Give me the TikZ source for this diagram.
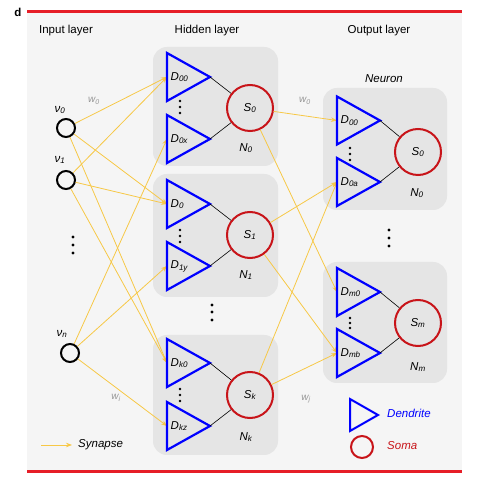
\documentclass[tikz,border=0pt]{standalone}
\usepackage{fontspec}
\setmainfont{Liberation Sans}
\usetikzlibrary{arrows.meta}
\definecolor{synC}{RGB}{247,200,70}
\definecolor{dblue}{RGB}{0,0,255}
\definecolor{sred}{RGB}{200,20,25}
\definecolor{barred}{RGB}{230,30,40}
\definecolor{panelC}{RGB}{245,245,245}
\definecolor{boxg}{RGB}{229,229,229}
\definecolor{wgray}{RGB}{150,150,150}
\tikzset{
  every node/.style={font=\fontsize{11.5}{13}\selectfont, inner sep=0pt},
  dend/.style={draw=dblue, line width=2.2pt, line join=miter},
  soma/.style={circle, draw=sred, line width=2pt, minimum size=46pt, fill=boxg},
  inp/.style={circle, draw=black, line width=2pt, minimum size=18pt},
  synapse/.style={draw=synC, line width=0.8pt, -{Stealth[length=6pt,width=4.5pt]}},
  link/.style={draw=black, line width=0.6pt},
  nbox/.style={fill=boxg, rounded corners=14pt},
  wlab/.style={text=wgray, font=\fontsize{10}{12}\selectfont\itshape},
  bigdot/.style={circle, fill=black, minimum size=3.2pt},
  smalldot/.style={circle, fill=black, minimum size=2.6pt},
}
\newcommand\dendr[4]{%
  \draw[dend] (#2,#3-24) -- (#2+43,#3) -- (#2,#3+24) -- cycle;
  \coordinate (#1) at (#2,#3);
  \coordinate (#1t) at (#2+43,#3);
  \node[anchor=west] (#1l) at (#2+3.5,#3) {\textit{D\textsubscript{#4}}};
}
\begin{document}
\begin{tikzpicture}[x=1pt,y=-1pt]
\useasboundingbox (0,0) rectangle (488,486);
% panel and red bars
\fill[panelC] (27,13) rectangle (462,470);
\draw[barred, line width=3pt] (27,12) -- (462,12);
\draw[barred, line width=3pt] (27,472) -- (462,472);
\node[font=\fontsize{11.5}{13}\selectfont\bfseries] (dlab) at (18,12) {d};
% titles
\node (t1) at (66,31) {Input layer};
\node (t2) at (207,31) {Hidden layer};
\node (t3) at (379,31) {Output layer};
\node[font=\fontsize{11.5}{13}\selectfont\itshape] (tn) at (384,79) {Neuron};
% neuron boxes
\fill[nbox] (153,47) rectangle (278,166);
\fill[nbox] (153,174) rectangle (278,297);
\fill[nbox] (153,335) rectangle (278,455);
\fill[nbox] (323,88) rectangle (447,210);
\fill[nbox] (323,262) rectangle (447,383);
% input neurons
\node[inp] (v0) at (66,128) {};
\node[inp] (v1) at (66,180) {};
\node[inp] (vn) at (70,353) {};
\node (v0l) at (60,110) {\textit{ν\textsubscript{0}}};
\node (v1l) at (60,160) {\textit{ν\textsubscript{1}}};
\node (vnl) at (62,334) {\textit{ν\textsubscript{n}}};
\node[bigdot] (id1) at (73,237) {};
\node[bigdot] (id2) at (73,245) {};
\node[bigdot] (id3) at (73,253) {};
% somas
\node[soma] (hs0) at (250,108) {\textit{S\textsubscript{0}}};
\node[soma] (hs1) at (250,235) {\textit{S\textsubscript{1}}};
\node[soma] (hsk) at (250,395) {\textit{S\textsubscript{k}}};
\node[soma] (os0) at (418,152) {\textit{S\textsubscript{0}}};
\node[soma] (osm) at (418,323) {\textit{S\textsubscript{m}}};
\node (hn0) at (246,148) {\textit{N\textsubscript{0}}};
\node (hn1) at (246,275) {\textit{N\textsubscript{1}}};
\node (hnk) at (246,437) {\textit{N\textsubscript{k}}};
\node (on0) at (417,193) {\textit{N\textsubscript{0}}};
\node (onm) at (418,367) {\textit{N\textsubscript{m}}};
% coordinates of dendrite inputs (defined before arrows)
\coordinate (h00) at (167,77);
\coordinate (h0x) at (167,139);
\coordinate (h10) at (167,204);
\coordinate (h1y) at (167,266);
\coordinate (hk0) at (167,363);
\coordinate (hkz) at (167,426);
\coordinate (o00) at (337,120.5);
\coordinate (o0a) at (337,182);
\coordinate (om0) at (337,292);
\coordinate (omb) at (337,353);
% synapses input -> hidden
\draw[synapse] (v0) -- (h00);
\draw[synapse] (v0) -- (h10);
\draw[synapse] (v0) -- (hk0);
\draw[synapse] (v1) -- (h00);
\draw[synapse] (v1) -- (h10);
\draw[synapse] (v1) -- (hk0);
\draw[synapse] (vn) -- (h0x);
\draw[synapse] (vn) -- (h1y);
\draw[synapse] (vn) -- (hkz);
% synapses hidden -> output
\draw[synapse] (hs0) -- (o00);
\draw[synapse] (hs0) -- (om0);
\draw[synapse] (hs1) -- (o0a);
\draw[synapse] (hs1) -- (omb);
\draw[synapse] (hsk) -- (o0a);
\draw[synapse] (hsk) -- (omb);
% dendrites
\dendr{h00}{167}{77}{00}
\dendr{h0x}{167}{139}{0x}
\dendr{h10}{167}{204}{0}
\dendr{h1y}{167}{266}{1y}
\dendr{hk0}{167}{363}{k0}
\dendr{hkz}{167}{426}{kz}
\dendr{o00}{337}{120.5}{00}
\dendr{o0a}{337}{182}{0a}
\dendr{om0}{337}{292}{m0}
\dendr{omb}{337}{353}{mb}
% dendrite -> soma
\draw[link] (h00t) -- (hs0);
\draw[link] (h0xt) -- (hs0);
\draw[link] (h10t) -- (hs1);
\draw[link] (h1yt) -- (hs1);
\draw[link] (hk0t) -- (hsk);
\draw[link] (hkzt) -- (hsk);
\draw[link] (o00t) -- (os0);
\draw[link] (o0at) -- (os0);
\draw[link] (om0t) -- (osm);
\draw[link] (ombt) -- (osm);
% small dots between dendrites
\foreach \y [count=\i] in {101,107,113} {\node[smalldot] (da\i) at (180,\y) {};}
\foreach \y [count=\i] in {230,236,242} {\node[smalldot] (db\i) at (180,\y) {};}
\foreach \y [count=\i] in {389,395,401} {\node[smalldot] (dc\i) at (180,\y) {};}
\foreach \y [count=\i] in {148,154,160} {\node[smalldot] (dd\i) at (350,\y) {};}
\foreach \y [count=\i] in {318,323,328} {\node[smalldot] (de\i) at (350,\y) {};}
% big dots between neurons
\foreach \y [count=\i] in {305,312,320} {\node[bigdot] (hd\i) at (212,\y) {};}
\foreach \y [count=\i] in {230,238,246} {\node[bigdot] (od\i) at (389,\y) {};}
% weight labels
\node[wlab] (w1) at (94,101) {w\textsubscript{0}};
\node[wlab] (w2) at (305,101) {w\textsubscript{0}};
\node[wlab] (w3) at (116,398) {w\textsubscript{i}};
\node[wlab] (w4) at (306,399) {w\textsubscript{j}};
% legend
\coordinate (sa) at (41,445);
\coordinate (sb) at (72,445);
\draw[synapse] (sa) -- (sb);
\node[anchor=west, font=\fontsize{11.5}{13}\selectfont\itshape] (synl) at (78,445) {Synapse};
\draw[dend, line width=2pt] (350,399) -- (378,415) -- (350,431) -- cycle;
\node[anchor=west, text=dblue, font=\fontsize{11.5}{13}\selectfont\itshape] (dl) at (387,413) {Dendrite};
\node[circle, draw=sred, line width=2pt, minimum size=22pt] (sl) at (362,447) {};
\node[anchor=west, text=sred, font=\fontsize{11.5}{13}\selectfont\itshape] (sml) at (387,446) {Soma};
\end{tikzpicture}
\end{document}
